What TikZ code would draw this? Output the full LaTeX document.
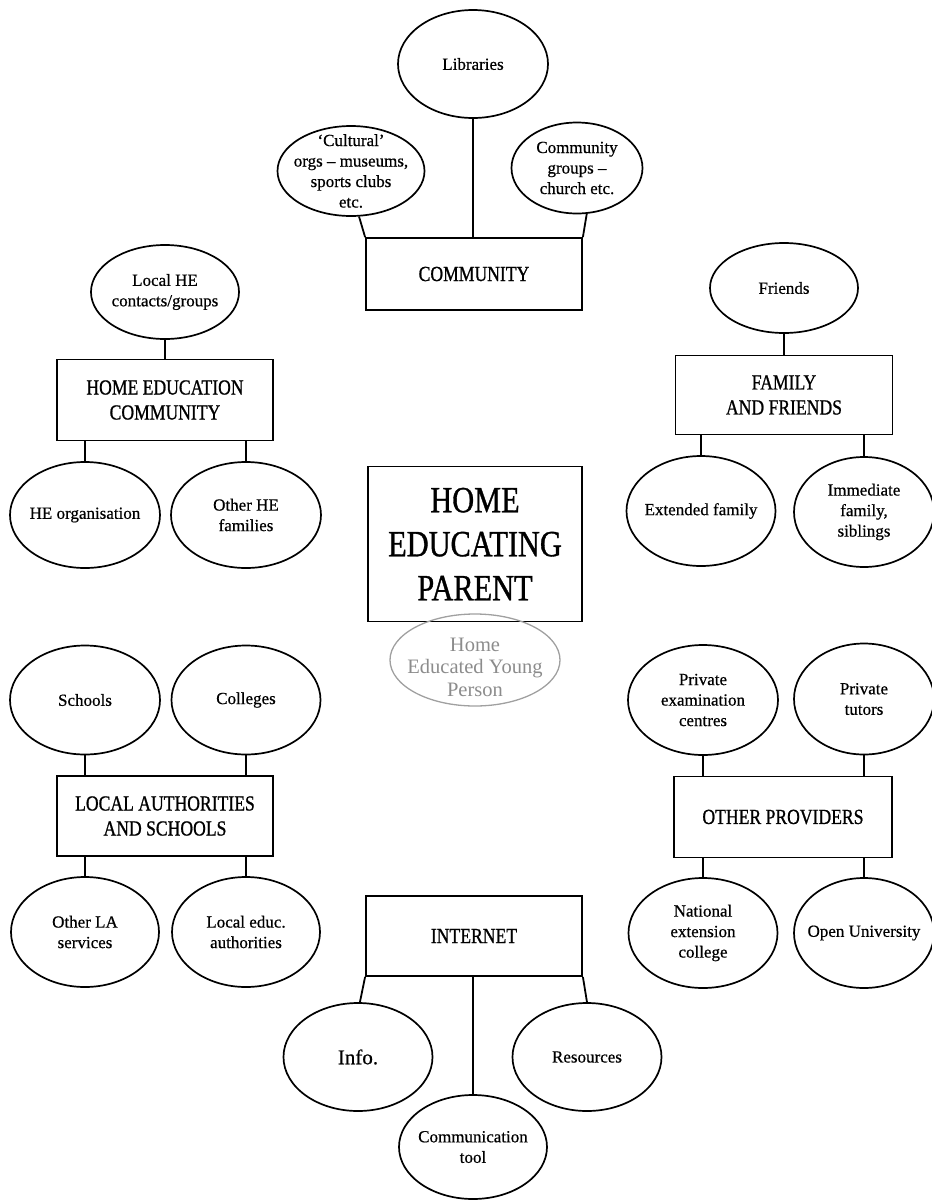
\documentclass[tikz,border=0pt]{standalone}
\usepackage{fontspec}
\setmainfont[FakeBold=0.6]{Liberation Serif}
\newfontfamily\capfont[FakeStretch=0.82,FakeBold=0.9]{Liberation Serif}
\newfontfamily\softfont{Liberation Serif}
\usetikzlibrary{shapes.geometric}
\definecolor{ypgray}{HTML}{8C8C8C}
\definecolor{yplinegray}{HTML}{A0A0A0}
\tikzset{
  % negative inner sep lets the given minimum sizes fix each ellipse
  bubble/.style={draw, ellipse, line width=1.7pt, inner xsep=-30pt, inner ysep=-16pt, align=center,
    font=\fontsize{17}{20.5}\selectfont},
  groupbox/.style={draw, rectangle, line width=1.8pt, inner sep=0pt, align=center,
    font=\capfont\fontsize{21.5}{25}\selectfont},
  link/.style={line width=1.8pt},
}
\begin{document}
\begin{tikzpicture}[x=1pt,y=-1pt]
\useasboundingbox (0,0) rectangle (932,1200);
\clip (0,0) rectangle (932,1200);

% community
\node[bubble, minimum width=150pt, minimum height=108pt] (lib) at (473,64) {Libraries};
\node[bubble, minimum width=147pt, minimum height=90pt] (cult) at (351,171) {`Cultural'\\orgs -- museums,\\sports clubs\\etc.};
\node[bubble, minimum width=131pt, minimum height=91pt] (cgrp) at (577,168) {Community\\groups --\\church etc.};
\node[groupbox, minimum width=216pt, minimum height=72pt] (comm) at (474,274) {COMMUNITY};
\draw[link] (lib.south) -- (lib.south |- comm.north);
\draw[link] (cult.-80) -- (comm.north west);
\draw[link] (cgrp.-78) -- (comm.north east);

% home education community
\node[bubble, minimum width=148pt, minimum height=94pt] (lhe) at (165,292) {Local HE\\contacts/groups};
\node[groupbox, minimum width=216pt, minimum height=81pt] (hec) at (165,400) {HOME EDUCATION\\COMMUNITY};
\node[bubble, minimum width=150pt, minimum height=106pt] (heorg) at (85,515) {HE organisation};
\node[bubble, minimum width=150pt, minimum height=106pt] (ohe) at (246,515) {Other HE\\families};
\draw[link] (lhe.south) -- (lhe.south |- hec.north);
\draw[link] (heorg.north) -- (heorg.north |- hec.south);
\draw[link] (ohe.north) -- (ohe.north |- hec.south);

% family and friends
\node[bubble, minimum width=148pt, minimum height=90pt] (fr) at (784,288) {Friends};
\node[groupbox, minimum width=217pt, minimum height=79pt] (ff) at (784,395) {FAMILY\\AND FRIENDS};
\node[bubble, minimum width=149pt, minimum height=110pt] (ext) at (701,511) {Extended family};
\node[bubble, minimum width=140pt, minimum height=110pt] (imm) at (864,512) {Immediate\\family,\\siblings};
\draw[link] (fr.south) -- (fr.south |- ff.north);
\draw[link] (ext.north) -- (ext.north |- ff.south);
\draw[link] (imm.north) -- (imm.north |- ff.south);

% centre: the parent, with the young person just below
\node[draw, rectangle, line width=1.8pt, minimum width=214pt, minimum height=155pt, align=center,
  font=\capfont\fontsize{37}{44}\selectfont] (hep) at (475,544) {HOME\\EDUCATING\\PARENT};
\node[draw=yplinegray, ellipse, line width=1.3pt, minimum width=170pt, minimum height=92pt,
  inner sep=0pt] (yp) at (475,660) {};
\node[align=center, text=ypgray, inner sep=0pt, font=\softfont\fontsize{20.5}{22.5}\selectfont]
  (ypt) at ([yshift=-7pt]yp.center) {Home\\Educated Young\\Person};

% local authorities and schools
\node[bubble, minimum width=150pt, minimum height=109pt] (sch) at (85,700) {Schools};
\node[bubble, minimum width=149pt, minimum height=109pt] (col) at (246,700) {Colleges};
\node[groupbox, minimum width=216pt, minimum height=80pt] (la) at (165,816) {LOCAL AUTHORITIES\\AND SCHOOLS};
\node[bubble, minimum width=148pt, minimum height=110pt] (ola) at (85,932) {Other LA\\services};
\node[bubble, minimum width=148pt, minimum height=110pt] (led) at (246,932) {Local educ.\\authorities};
\draw[link] (sch.south) -- (sch.south |- la.north);
\draw[link] (col.south) -- (col.south |- la.north);
\draw[link] (ola.north) -- (ola.north |- la.south);
\draw[link] (led.north) -- (led.north |- la.south);

% other providers
\node[bubble, minimum width=150pt, minimum height=110pt] (pec) at (703,700) {Private\\examination\\centres};
\node[bubble, minimum width=140pt, minimum height=111pt] (pt) at (864,699) {Private\\tutors};
\node[groupbox, minimum width=218pt, minimum height=81pt] (op) at (783,817) {OTHER PROVIDERS};
\node[bubble, minimum width=149pt, minimum height=110pt] (nec) at (703,933) {National\\extension\\college};
\node[bubble, minimum width=140pt, minimum height=110pt] (ou) at (864,933) {Open University};
\draw[link] (pec.south) -- (pec.south |- op.north);
\draw[link] (pt.south) -- (pt.south |- op.north);
\draw[link] (nec.north) -- (nec.north |- op.south);
\draw[link] (ou.north) -- (ou.north |- op.south);

% internet
\node[groupbox, minimum width=216pt, minimum height=80pt] (inet) at (474,936) {INTERNET};
\node[bubble, minimum width=149pt, minimum height=108pt, font=\fontsize{21}{23}\selectfont] (info) at (358,1057) {Info.};
\node[bubble, minimum width=149pt, minimum height=108pt] (res) at (587,1057) {Resources};
\node[bubble, minimum width=148pt, minimum height=104pt] (ct) at (473,1147) {Communication\\tool};
\draw[link] (info.88) -- (inet.south west);
\draw[link] (res.north) -- (inet.south east);
\draw[link] (ct.north) -- (ct.north |- inet.south);
\end{tikzpicture}
\end{document}
